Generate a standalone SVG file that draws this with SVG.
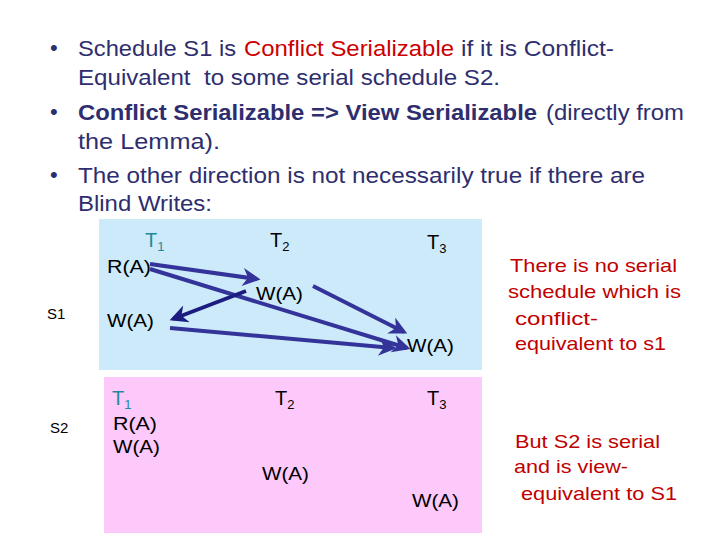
<svg xmlns="http://www.w3.org/2000/svg" width="720" height="540" viewBox="0 0 720 540">
<style>
text{font-family:"Liberation Sans",Arial,sans-serif}
.b{fill:#2e2e6e;font-size:22px}
.bb{fill:#2e2e6e;font-size:22px;font-weight:bold}
.r{fill:#cc0000}
.n{fill:#000;font-size:19px}
.t1{fill:#1f8a99;font-size:20px}
.t{fill:#000;font-size:20px}
.sub{font-size:13px}
.note{fill:#c00000;font-size:19px}
.lab{fill:#000;font-size:15px}
.c{stroke:#333399;stroke-width:4;fill:none;marker-end:url(#ah)}
.c2{stroke:#1c1c80;stroke-width:4;fill:none;marker-end:url(#ah2)}
</style>
<defs>
<marker id="ah" viewBox="0 0 10 10" refX="8" refY="5" markerWidth="5" markerHeight="4.5" orient="auto" markerUnits="strokeWidth"><path d="M0,0 L10,5 L0,10 L3,5 z" fill="#333399"/></marker>
<marker id="ah2" viewBox="0 0 10 10" refX="8" refY="5" markerWidth="5" markerHeight="4.5" orient="auto" markerUnits="strokeWidth"><path d="M0,0 L10,5 L0,10 L3,5 z" fill="#1c1c80"/></marker>
</defs>
<rect width="720" height="540" fill="#fff"/>
<g id="bullets">
<text class="b" x="50" y="55" font-size="16">•</text>
<text class="b" x="78" y="56" textLength="158" lengthAdjust="spacingAndGlyphs">Schedule S1 is</text>
<text class="b r" x="244" y="56" textLength="210" lengthAdjust="spacingAndGlyphs">Conflict Serializable</text>
<text class="b" x="461" y="56" textLength="153" lengthAdjust="spacingAndGlyphs">if it is Conflict-</text>
<text class="b" x="78" y="85" textLength="422" lengthAdjust="spacingAndGlyphs">Equivalent&#160; to some serial schedule S2.</text>
<text class="b" x="50" y="119" font-size="16">•</text>
<text class="bb" x="78" y="120" textLength="459" lengthAdjust="spacingAndGlyphs">Conflict Serializable =&gt; View Serializable</text>
<text class="b" x="546" y="120" textLength="138" lengthAdjust="spacingAndGlyphs">(directly from</text>
<text class="b" x="78" y="149" textLength="142" lengthAdjust="spacingAndGlyphs">the Lemma).</text>
<text class="b" x="50" y="182" font-size="16">•</text>
<text class="b" x="78" y="183" textLength="567" lengthAdjust="spacingAndGlyphs">The other direction is not necessarily true if there are</text>
<text class="b" x="78" y="211" textLength="134" lengthAdjust="spacingAndGlyphs">Blind Writes:</text>
</g>
<g id="s1-box"><rect x="99" y="219" width="383" height="151" fill="#cceaf9"/></g>
<g id="s2-box"><rect x="104" y="377" width="378" height="156" fill="#fdc9fb"/></g>
<g id="labels">
<text class="lab" x="47" y="319">S1</text>
<text class="lab" x="50" y="433">S2</text>
</g>
<g id="s1-headers">
<text class="t1" x="145" y="247">T<tspan class="sub" dy="4">1</tspan></text>
<text class="t" x="270" y="247">T<tspan class="sub" dy="4">2</tspan></text>
<text class="t" x="427" y="249">T<tspan class="sub" dy="4">3</tspan></text>
</g>
<g id="s1-t1-r"><text class="n" x="107" y="273" textLength="44" lengthAdjust="spacingAndGlyphs">R(A)</text></g>
<g id="s1-t2-w"><text class="n" x="256" y="300" textLength="47" lengthAdjust="spacingAndGlyphs">W(A)</text></g>
<g id="s1-t1-w"><text class="n" x="107" y="327" textLength="47" lengthAdjust="spacingAndGlyphs">W(A)</text></g>
<g id="s1-t3-w"><text class="n" x="407" y="352" textLength="47" lengthAdjust="spacingAndGlyphs">W(A)</text></g>
<g id="connectors">
<line class="c" x1="150" y1="264" x2="257" y2="279"/>
<line class="c" x1="150" y1="269" x2="407" y2="348"/>
<line class="c2" x1="246" y1="291" x2="173" y2="319"/>
<line class="c" x1="313" y1="286" x2="404" y2="332"/>
<line class="c" x1="170" y1="328" x2="393" y2="348"/>
</g>
<g id="s2-headers">
<text class="t1" x="112" y="405">T<tspan class="sub" dy="4">1</tspan></text>
<text class="t" x="275" y="405">T<tspan class="sub" dy="4">2</tspan></text>
<text class="t" x="427" y="405">T<tspan class="sub" dy="4">3</tspan></text>
</g>
<g id="s2-t1"><text class="n" x="113" y="430" textLength="44" lengthAdjust="spacingAndGlyphs">R(A)</text><text class="n" x="113" y="453" textLength="47" lengthAdjust="spacingAndGlyphs">W(A)</text></g>
<g id="s2-t2-w"><text class="n" x="262" y="480" textLength="47" lengthAdjust="spacingAndGlyphs">W(A)</text></g>
<g id="s2-t3-w"><text class="n" x="412" y="507" textLength="47" lengthAdjust="spacingAndGlyphs">W(A)</text></g>
<g id="note1">
<text class="note" x="510" y="272" textLength="167" lengthAdjust="spacingAndGlyphs">There is no serial</text>
<text class="note" x="508" y="298" textLength="173" lengthAdjust="spacingAndGlyphs">schedule which is</text>
<text class="note" x="515" y="325" textLength="83" lengthAdjust="spacingAndGlyphs">conflict-</text>
<text class="note" x="515" y="350" textLength="151" lengthAdjust="spacingAndGlyphs">equivalent to s1</text>
</g>
<g id="note2">
<text class="note" x="515" y="448" textLength="145" lengthAdjust="spacingAndGlyphs">But S2 is serial</text>
<text class="note" x="514" y="473" textLength="114" lengthAdjust="spacingAndGlyphs">and is view-</text>
<text class="note" x="521" y="500" textLength="156" lengthAdjust="spacingAndGlyphs">equivalent to S1</text>
</g>
</svg>
